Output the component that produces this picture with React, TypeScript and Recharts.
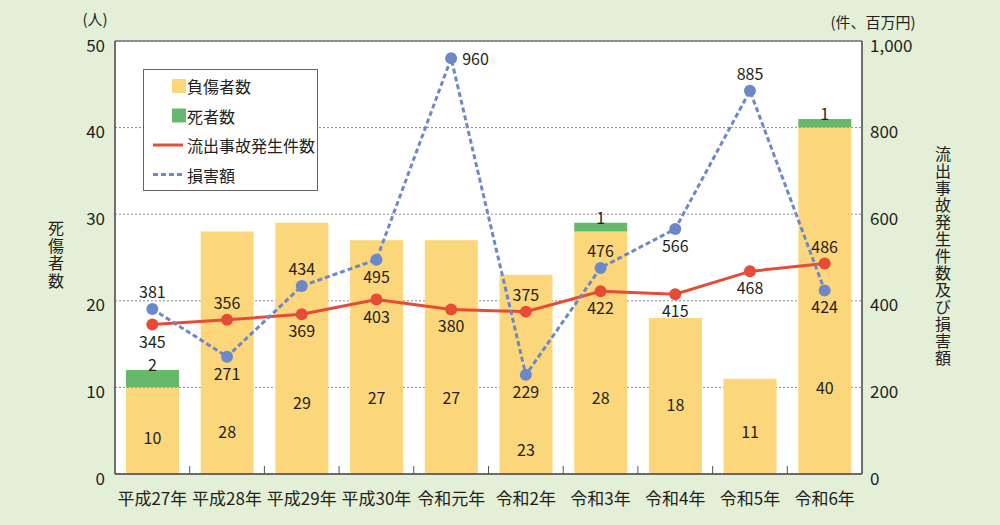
import React from 'react';
import {
  ComposedChart,
  Bar,
  Line,
  XAxis,
  YAxis,
  CartesianGrid,
  LabelList,
  ReferenceLine,
} from 'recharts';

const categories = ['平成27年', '平成28年', '平成29年', '平成30年', '令和元年', '令和2年', '令和3年', '令和4年', '令和5年', '令和6年'];
const injured = [10, 28, 29, 27, 27, 23, 28, 18, 11, 40];
const dead = [2, 0, 0, 0, 0, 0, 1, 0, 0, 1];
const incidents = [345, 356, 369, 403, 380, 375, 422, 415, 468, 486];
const damage = [381, 271, 434, 495, 960, 229, 476, 566, 885, 424];
const leftTicks = [0, 10, 20, 30, 40, 50];
const rightTicks = [0, 200, 400, 600, 800, 1000];

// label placement hints (not data)
const incidentLabelSide = ['below', 'above', 'below', 'below', 'below', 'above', 'below', 'below', 'below', 'above'];
const damageLabelSide = ['above', 'below', 'above', 'below', 'right', 'below', 'above', 'below', 'above', 'below'];
const injuredLabelLevel = [4.3, 5.0, 8.3, 8.9, 8.9, 2.9, 8.9, 8.1, 5.0, 10.0];

const data = categories.map((name, i) => ({
  name,
  injured: injured[i],
  dead: dead[i],
  incidents: incidents[i],
  damage: damage[i],
}));

const FONT = '"Noto Sans CJK JP", "Noto Sans", sans-serif';
const TEXT = '#231f20';
const BG = '#e3efd7';
const YELLOW = '#fcd67b';
const GREEN = '#66b96b';
const RED = '#e64b35';
const BLUE = '#6b88c9';

const W = 1000;
const H = 525;
const PLOT_LEFT = 115;
const PLOT_RIGHT = 862;
const PLOT_TOP = 41;
const PLOT_BOTTOM = 474;
const BAND = (PLOT_RIGHT - PLOT_LEFT) / categories.length;

const XTick = (props: any) => {
  const { x, payload, index } = props;
  return (
    <g>
      {index < categories.length - 1 && (
        <line x1={x + BAND / 2} x2={x + BAND / 2} y1={PLOT_BOTTOM} y2={PLOT_BOTTOM - 8} stroke="#555" strokeWidth={1} />
      )}
      <text x={x} y={PLOT_BOTTOM + 23} textAnchor="middle" dominantBaseline="central" fontSize={17} fill={TEXT} fontFamily={FONT}>
        {payload.value}
      </text>
    </g>
  );
};

const LeftTick = (props: any) => {
  const { x, y, payload } = props;
  return (
    <text x={x} y={y + 3} textAnchor="end" dominantBaseline="central" fontSize={17} fill={TEXT} fontFamily={FONT}>
      {payload.value}
    </text>
  );
};

const RightTick = (props: any) => {
  const { x, y, payload } = props;
  return (
    <text x={x} y={y + 3} textAnchor="start" dominantBaseline="central" fontSize={17} fill={TEXT} fontFamily={FONT}>
      {Number(payload.value).toLocaleString('en-US')}
    </text>
  );
};

const sideLabel = (sides: string[]) => (props: any) => {
  const { x, y, value, index } = props;
  const side = sides[index];
  let tx = x;
  let ty = y;
  let anchor: any = 'middle';
  if (side === 'above') ty = y - 18;
  else if (side === 'below') ty = y + 16;
  else {
    tx = x + 11;
    anchor = 'start';
  }
  return (
    <text x={tx} y={ty} textAnchor={anchor} dominantBaseline="central" fontSize={16} fill={TEXT} fontFamily={FONT}>
      {value}
    </text>
  );
};

const injuredLabel = (props: any) => {
  const { x, y, width, height, value, index } = props;
  const bottom = y + height;
  const perUnit = height / value;
  const ly = bottom - injuredLabelLevel[index] * perUnit;
  return (
    <text x={x + width / 2} y={ly} textAnchor="middle" dominantBaseline="central" fontSize={16} fill={TEXT} fontFamily={FONT}>
      {value}
    </text>
  );
};

const deadLabel = (props: any) => {
  const { x, y, width, value } = props;
  if (!value) return null;
  return (
    <text x={x + width / 2} y={y - 6} textAnchor="middle" dominantBaseline="central" fontSize={16} fill={TEXT} fontFamily={FONT}>
      {value}
    </text>
  );
};

const VerticalText = ({ text, x, y, size, spacing }: { text: string; x: number; y: number; size: number; spacing: number }) => (
  <text
    x={x}
    y={y}
    fontSize={size}
    fill={TEXT}
    fontFamily={FONT}
    style={{ writingMode: 'vertical-rl', letterSpacing: spacing } as any}
  >
    {text}
  </text>
);

const legendItems = [
  { label: '負傷者数', kind: 'box', color: YELLOW },
  { label: '死者数', kind: 'box', color: GREEN },
  { label: '流出事故発生件数', kind: 'line', color: RED },
  { label: '損害額', kind: 'dash', color: BLUE },
];

export default function App() {
  return (
    <div style={{ position: 'absolute', left: 0, top: 0, width: W, height: H, background: BG, fontFamily: FONT }}>
      <ComposedChart
        width={W}
        height={H}
        data={data}
        margin={{ top: PLOT_TOP, right: 0, bottom: 0, left: 0 }}
        barSize={53}
      >
        <CartesianGrid
          yAxisId="left"
          vertical={false}
          stroke="#8a8a8a"
          strokeDasharray="2 2"
          fill="#ffffff"
          fillOpacity={1}
        />
        <XAxis
          dataKey="name"
          height={H - PLOT_BOTTOM}
          tick={<XTick />}
          tickLine={false}
          tickSize={0}
          interval={0}
          axisLine={{ stroke: '#444', strokeWidth: 1.5 }}
        />
        <YAxis
          yAxisId="left"
          orientation="left"
          width={PLOT_LEFT}
          domain={[0, 50]}
          ticks={leftTicks}
          tick={<LeftTick />}
          tickLine={false}
          tickSize={0}
          tickMargin={10}
          axisLine={{ stroke: '#444', strokeWidth: 1.5 }}
          allowDataOverflow
        />
        <YAxis
          yAxisId="right"
          orientation="right"
          width={W - PLOT_RIGHT}
          domain={[0, 1000]}
          ticks={rightTicks}
          tick={<RightTick />}
          tickLine={false}
          tickSize={0}
          tickMargin={8}
          axisLine={{ stroke: '#444', strokeWidth: 1.5 }}
          allowDataOverflow
        />
        <ReferenceLine yAxisId="left" y={50} stroke="#777" strokeWidth={1.5} />
        <Bar dataKey="injured" stackId="a" yAxisId="left" fill={YELLOW} isAnimationActive={false}>
          <LabelList dataKey="injured" content={injuredLabel} />
        </Bar>
        <Bar dataKey="dead" stackId="a" yAxisId="left" fill={GREEN} isAnimationActive={false}>
          <LabelList dataKey="dead" content={deadLabel} />
        </Bar>
        <Line
          type="linear"
          dataKey="incidents"
          yAxisId="right"
          stroke={RED}
          strokeWidth={3}
          dot={{ r: 6, fill: RED, stroke: 'none' }}
          activeDot={false}
          isAnimationActive={false}
        >
          <LabelList dataKey="incidents" content={sideLabel(incidentLabelSide)} />
        </Line>
        <Line
          type="linear"
          dataKey="damage"
          yAxisId="right"
          stroke={BLUE}
          strokeWidth={3}
          strokeDasharray="5 3"
          dot={{ r: 6, fill: BLUE, stroke: 'none', strokeDasharray: '0' }}
          activeDot={false}
          isAnimationActive={false}
        >
          <LabelList dataKey="damage" content={sideLabel(damageLabelSide)} />
        </Line>
      </ComposedChart>
      <svg width={W} height={H} style={{ position: 'absolute', left: 0, top: 0, pointerEvents: 'none' }}>
        <text x={95} y={18} textAnchor="middle" dominantBaseline="central" fontSize={15} fill={TEXT} fontFamily={FONT}>
          (人)
        </text>
        <text x={873} y={21} textAnchor="middle" dominantBaseline="central" fontSize={15} fill={TEXT} fontFamily={FONT}>
          (件、百万円)
        </text>
        <VerticalText text="死傷者数" x={56} y={220} size={16} spacing={1.5} />
        <VerticalText text="流出事故発生件数及び損害額" x={943} y={146} size={16} spacing={1} />
        <rect x={143.5} y={69.5} width={174} height={121} fill="#fff" stroke="#666" strokeWidth={1} />
        {legendItems.map((it, i) => {
          const cy = 86 + i * 29.5;
          return (
            <g key={it.label}>
              {it.kind === 'box' && <rect x={172} y={cy - 7} width={14} height={14} fill={it.color} />}
              {it.kind === 'line' && <line x1={153} x2={183} y1={cy} y2={cy} stroke={it.color} strokeWidth={3} />}
              {it.kind === 'dash' && (
                <line x1={153} x2={183} y1={cy} y2={cy} stroke={it.color} strokeWidth={3} strokeDasharray="5 3" />
              )}
              <text x={187} y={cy} dominantBaseline="central" fontSize={16} fill={TEXT} fontFamily={FONT}>
                {it.label}
              </text>
            </g>
          );
        })}
      </svg>
    </div>
  );
}
